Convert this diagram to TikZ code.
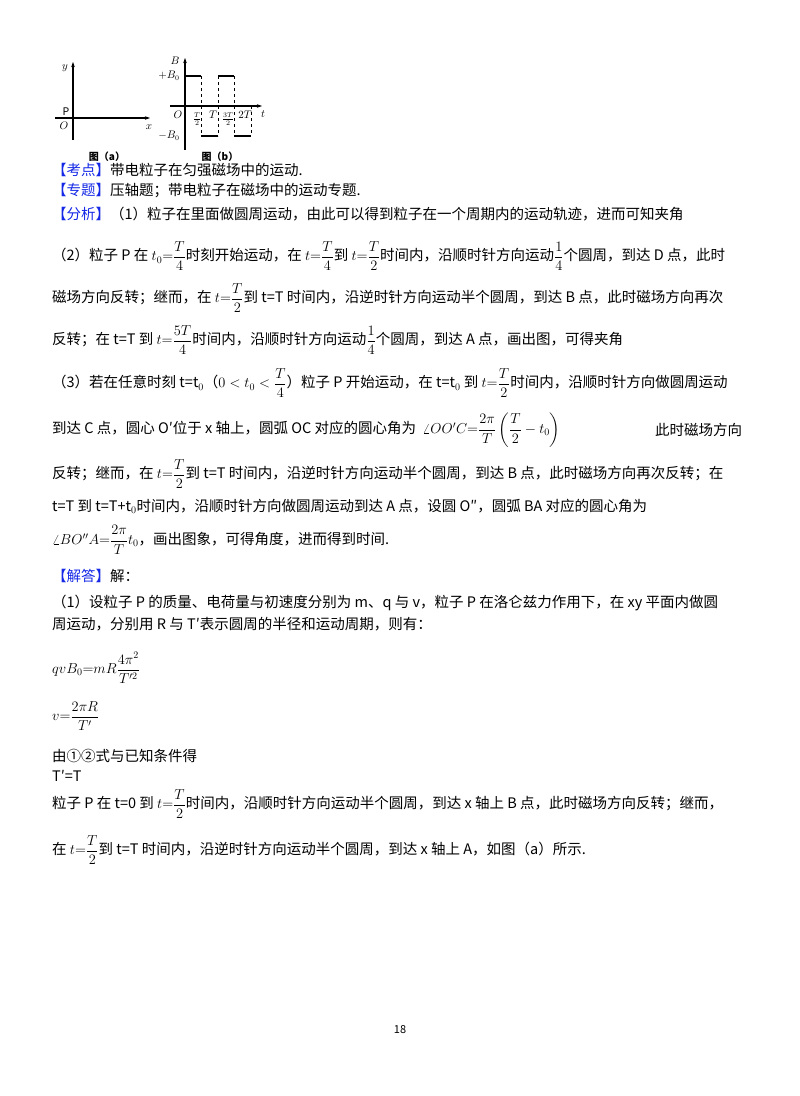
\documentclass[tikz,border=0pt]{standalone}
\usepackage{amsmath}
\usepackage{fontspec}
\setmainfont{Noto Sans CJK SC}
\usetikzlibrary{arrows.meta}
\definecolor{kblue}{RGB}{20,40,230}
\begin{document}
\begin{tikzpicture}[x=1pt,y=-1pt,
  ln/.style={anchor=west,inner sep=0pt,font=\fontsize{14.5}{16}\selectfont},
  ax/.style={line width=1.2pt,-{Stealth[length=5pt,width=3.5pt]}},
  lab/.style={inner sep=0pt,font=\fontsize{10.5}{11}\selectfont},
  figcap/.style={inner sep=0pt,font=\fontsize{10}{11}\selectfont\bfseries}]
\useasboundingbox (0,0) rectangle (800,1096);
% figure (a)
\draw[ax] (55,118) -- (150,118);
\draw[ax] (73,140) -- (73,62);
\node[lab] (ya) at (65,68) {$y$};
\node[lab] (xa) at (149,127) {$x$};
\node[lab] (pa) at (66,112) {P};
\node[lab] (oa) at (64,126) {$O$};
\node[figcap] (ca) at (107,157) {图（a）};
% figure (b)
\draw[ax] (170,106) -- (262,106);
\draw[ax] (185,150) -- (185,58);
\node[lab] (bb) at (175,61) {$B$};
\node[lab] (pb) at (169,76) {$+B_0$};
\node[lab] (mb) at (169,136) {$-B_0$};
\node[lab] (ob) at (178,115) {$O$};
\node[lab] (tb) at (263,114) {$t$};
\draw[line width=1.2pt] (185,76) -- (201,76) (201,136) -- (218,136) (218,76) -- (234,76) (234,136) -- (251,136);
\draw[dashed,line width=0.9pt] (201,76) -- (201,136) (218,76) -- (218,136) (234,76) -- (234,136) (251,106) -- (251,136);
\node[lab] (t1) at (197,119) {$\frac{T}{2}$};
\node[lab] (t2) at (213,115) {$T$};
\node[lab] (t3) at (228,119) {$\frac{3T}{2}$};
\node[lab] (t4) at (245,115) {$2T$};
\node[figcap] (cb) at (220,157) {图（b）};
% text
\node[ln] (l1) at (52,170) {{\color{kblue}【考点】}带电粒子在匀强磁场中的运动.};
\node[ln] (l2) at (52,191) {{\color{kblue}【专题】}压轴题；带电粒子在磁场中的运动专题.};
\node[ln] (l3) at (52,214) {{\color{kblue}【分析】}（1）粒子在里面做圆周运动，由此可以得到粒子在一个周期内的运动轨迹，进而可知夹角};
\node[ln] (l4) at (52,256) {（2）粒子 P 在 $t_0{=}\dfrac{T}{4}$时刻开始运动，在 $t{=}\dfrac{T}{4}$到 $t{=}\dfrac{T}{2}$时间内，沿顺时针方向运动$\dfrac14$个圆周，到达 D 点，此时};
\node[ln] (l5) at (52,298) {磁场方向反转；继而，在 $t{=}\dfrac{T}{2}$到 t=T 时间内，沿逆时针方向运动半个圆周，到达 B 点，此时磁场方向再次};
\node[ln] (l6) at (52,340) {反转；在 t=T 到 $t{=}\dfrac{5T}{4}$时间内，沿顺时针方向运动$\dfrac14$个圆周，到达 A 点，画出图，可得夹角};
\node[ln] (l7) at (52,383) {（3）若在任意时刻 t=t$_0$（$0<t_0<\dfrac{T}{4}$）粒子 P 开始运动，在 t=t$_0$ 到 $t{=}\dfrac{T}{2}$时间内，沿顺时针方向做圆周运动};
\node[ln] (l8) at (52,430) {到达 C 点，圆心 O′位于 x 轴上，圆弧 OC 对应的圆心角为 \ $\angle OO'C{=}\dfrac{2\pi}{T}\left(\dfrac{T}{2}-t_0\right)$};
\node[ln] (l8b) at (655,430) {此时磁场方向};
\node[ln] (l9) at (52,474) {反转；继而，在 $t{=}\dfrac{T}{2}$到 t=T 时间内，沿逆时针方向运动半个圆周，到达 B 点，此时磁场方向再次反转；在};
\node[ln] (l10) at (52,506) {t=T 到 t=T+t$_0$时间内，沿顺时针方向做圆周运动到达 A 点，设圆 O″，圆弧 BA 对应的圆心角为};
\node[ln] (l11) at (52,540) {$\angle BO''A{=}\dfrac{2\pi}{T}t_0$，画出图象，可得角度，进而得到时间.};
\node[ln] (l12) at (52,576) {{\color{kblue}【解答】}解：};
\node[ln] (l13) at (52,603) {（1）设粒子 P 的质量、电荷量与初速度分别为 m、q 与 v，粒子 P 在洛仑兹力作用下，在 xy 平面内做圆};
\node[ln] (l14) at (52,624) {周运动，分别用 R 与 T′表示圆周的半径和运动周期，则有：};
\node[ln] (l15) at (52,668) {$qvB_0{=}mR\dfrac{4\pi^2}{T'^2}$};
\node[ln] (l16) at (52,716) {$v{=}\dfrac{2\pi R}{T'}$};
\node[ln] (l17) at (52,756) {由①②式与已知条件得};
\node[ln] (l18) at (52,776) {T′=T};
\node[ln] (l19) at (52,804) {粒子 P 在 t=0 到 $t{=}\dfrac{T}{2}$时间内，沿顺时针方向运动半个圆周，到达 x 轴上 B 点，此时磁场方向反转；继而，};
\node[ln] (l20) at (52,850) {在 $t{=}\dfrac{T}{2}$到 t=T 时间内，沿逆时针方向运动半个圆周，到达 x 轴上 A，如图（a）所示.};
\node[ln,anchor=center,font=\fontsize{11}{12}\selectfont] (pg) at (400,1030) {18};
\end{tikzpicture}
\end{document}
